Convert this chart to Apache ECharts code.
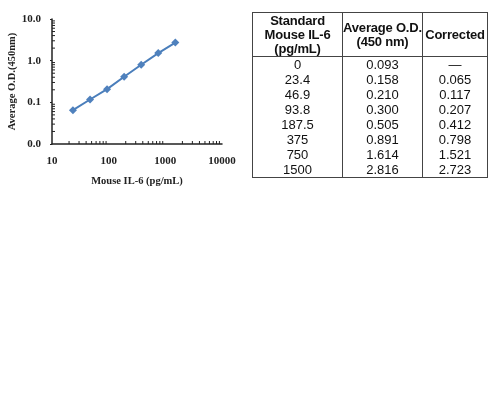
<!DOCTYPE html>
<html>
<head>
<meta charset="utf-8">
<script src="https://cdn.jsdelivr.net/npm/echarts@6/dist/echarts.min.js"></script>
<style>
  html, body { margin: 0; padding: 0; background: #fff; }
  #chart { position: absolute; left: 0; top: 0; width: 495px; height: 400px; }
  #tbl {
    position: absolute; left: 252px; top: 12px; width: 236px; table-layout: fixed;
    border-collapse: collapse; font-family: "Liberation Sans", Arial, sans-serif;
    font-size: 13px; color: #111; border: 1px solid #444;
  }
  #tbl th { font-weight: bold; line-height: 14px; height: 42px; padding: 1px 0 0 0; border: 1px solid #444; white-space: nowrap; letter-spacing: -0.2px; overflow: visible; }
  #tbl td { text-align: center; line-height: 15px; height: 15px; padding: 0; border-left: 1px solid #444; border-right: 1px solid #444; }
</style>
</head>
<body>
<div id="chart"></div>
<table id="tbl"><thead></thead><tbody></tbody></table>
<script>
// table data
var headers = ["Standard<br>Mouse IL-6<br>(pg/mL)", "Average O.D.<br>(450 nm)", "Corrected"];
var stdConc = ["0", "23.4", "46.9", "93.8", "187.5", "375", "750", "1500"];
var avgOD = ["0.093", "0.158", "0.210", "0.300", "0.505", "0.891", "1.614", "2.816"];
var corrected = ["\u2014", "0.065", "0.117", "0.207", "0.412", "0.798", "1.521", "2.723"];
var colWidths = [89, 79, 64];

// axis ticks
var xMinor = [20, 30, 40, 50, 60, 70, 80, 90, 200, 300, 400, 500, 600, 700, 800, 900, 2000, 3000, 4000, 5000, 6000, 7000, 8000, 9000];
var yMinor = [0.02, 0.03, 0.04, 0.05, 0.06, 0.07, 0.08, 0.09, 0.2, 0.3, 0.4, 0.5, 0.6, 0.7, 0.8, 0.9, 2, 3, 4, 5, 6, 7, 8, 9];

// build table
var thead = document.querySelector("#tbl thead");
var tr = document.createElement("tr");
headers.forEach(function (h, i) {
  var th = document.createElement("th");
  th.innerHTML = h;
  th.style.width = colWidths[i] + "px";
  tr.appendChild(th);
});
thead.appendChild(tr);
var tbody = document.querySelector("#tbl tbody");
stdConc.forEach(function (c, i) {
  var row = document.createElement("tr");
  [c, avgOD[i], corrected[i]].forEach(function (v) {
    var td = document.createElement("td");
    td.textContent = v;
    row.appendChild(td);
  });
  tbody.appendChild(row);
});

// chart points: concentration vs corrected OD (skip the blank)
var points = [];
for (var i = 1; i < stdConc.length; i++) {
  points.push([parseFloat(stdConc[i]), parseFloat(corrected[i])]);
}

var serif = '"Liberation Serif", "Times New Roman", serif';
var myChart = echarts.init(document.getElementById("chart"));
var option = {
  animation: false,
  grid: { left: 52, top: 19, width: 170, height: 125 },
  xAxis: {
    type: "log", logBase: 10, min: 10, max: 10000,
    name: "Mouse IL-6 (pg/mL)", nameLocation: "middle", nameGap: 32,
    nameTextStyle: { fontFamily: serif, fontWeight: "bold", fontSize: 10.5, color: "#222" },
    axisLine: { lineStyle: { color: "#222", width: 1.5 } },
    axisTick: { show: false },
    axisLabel: { fontFamily: serif, fontWeight: "bold", fontSize: 11, color: "#222", margin: 12,
      formatter: function (v) { return String(Math.round(v)); } },
    splitLine: { show: false }
  },
  yAxis: {
    type: "log", logBase: 10, min: 0.01, max: 10,
    name: "Average O.D.(450nm)", nameLocation: "middle", nameGap: 32,
    nameTextStyle: { fontFamily: serif, fontWeight: "bold", fontSize: 10.5, color: "#222" },
    axisLine: { lineStyle: { color: "#222", width: 1.5 } },
    axisTick: { show: true, inside: false, length: 2, lineStyle: { color: "#222" } },
    axisLabel: { fontFamily: serif, fontWeight: "bold", fontSize: 11, color: "#222", margin: 11,
      formatter: function (v) { return v < 0.05 ? "0.0" : v.toFixed(1); } },
    splitLine: { show: false }
  },
  series: [
    {
      type: "custom", silent: true, clip: false, z: 1,
      data: xMinor.map(function (v) { return [v]; }),
      renderItem: function (params, api) {
        var p = api.coord([api.value(0), 0.01]);
        return { type: "line", shape: { x1: p[0], y1: p[1], x2: p[0], y2: p[1] - 3 },
          style: { stroke: "#222", lineWidth: 1 } };
      }
    },
    {
      type: "custom", silent: true, clip: false, z: 1,
      data: yMinor.map(function (v) { return [v]; }),
      renderItem: function (params, api) {
        var p = api.coord([10, api.value(0)]);
        return { type: "line", shape: { x1: p[0], y1: p[1], x2: p[0] + 3, y2: p[1] },
          style: { stroke: "#222", lineWidth: 1 } };
      }
    },
    {
      type: "line", data: points,
      symbol: "diamond", symbolSize: 8, showSymbol: true,
      lineStyle: { color: "#4A7EBB", width: 2 },
      itemStyle: { color: "#4F81BD" }
    }
  ]
};
myChart.setOption(option);
</script>
</body>
</html>
